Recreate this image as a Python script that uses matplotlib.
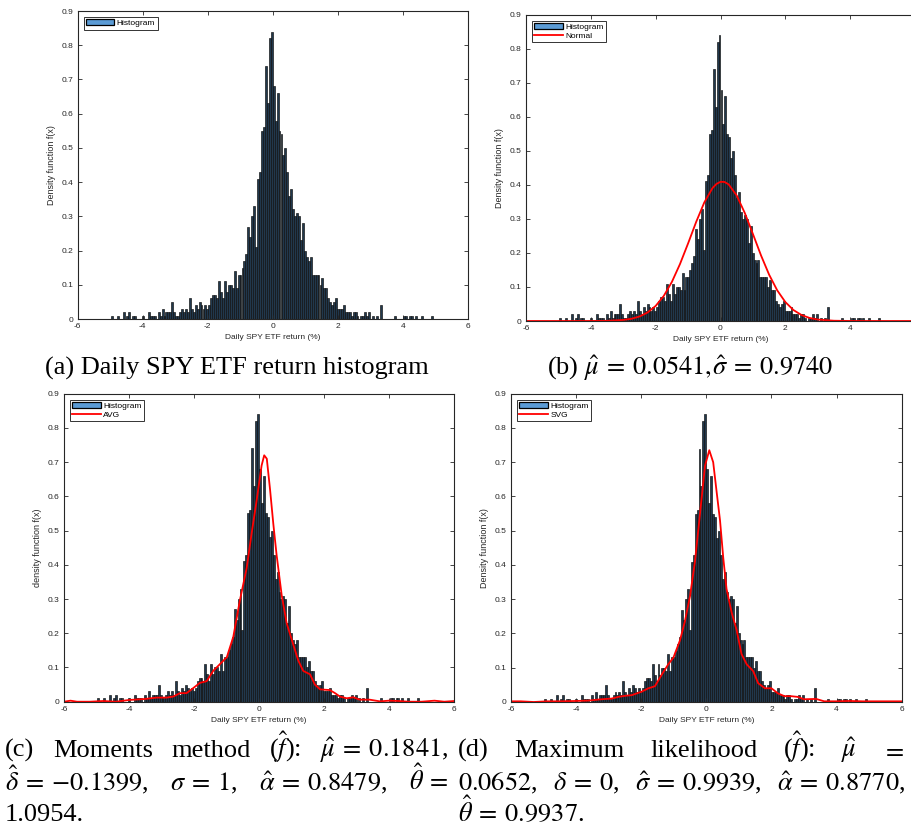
import numpy as np
import matplotlib.pyplot as plt
from matplotlib.patches import Patch
from matplotlib.lines import Line2D

plt.rcParams['font.family'] = 'Liberation Sans'
plt.rcParams['mathtext.fontset'] = 'stix'
plt.rcParams['axes.unicode_minus'] = False

# histogram of daily SPY ETF returns (density), bins of width 0.06 starting at -5.16
bin_start = -5.16
bin_w = 0.06
density = [
    0, 0, 0, 0.01, 0, 0, 0.01, 0, 0, 0.02, 0, 0.01, 0.02, 0, 0.01, 0.01, 0, 0, 0, 0.01,
    0, 0, 0.02, 0.01, 0.01, 0.01, 0, 0.02, 0.01, 0.03, 0.01, 0.02, 0.02, 0.02, 0.05, 0.02, 0.01, 0.01, 0.02, 0.03,
    0.02, 0.03, 0.02, 0.06, 0.03, 0.02, 0.04, 0.03, 0.05, 0.04, 0.03, 0.04, 0.03, 0.04, 0.06, 0.07, 0.07, 0.06,
    0.11, 0.08, 0.06, 0.11, 0.08, 0.10, 0.10, 0.09, 0.14, 0.09, 0.13, 0.13, 0.15, 0.17, 0.19, 0.27, 0.24, 0.30,
    0.33, 0.21, 0.41, 0.43, 0.55, 0.56, 0.74, 0.63, 0.82, 0.84, 0.68, 0.58, 0.66, 0.55, 0.54, 0.48, 0.50, 0.43,
    0.36, 0.38, 0.32, 0.30, 0.31, 0.30, 0.23, 0.28, 0.20, 0.18, 0.17, 0.18, 0.13, 0.13, 0.13, 0.13, 0.10, 0.12,
    0.09, 0.09, 0.06, 0.05, 0.04, 0.05, 0.06, 0.03, 0.03, 0.03, 0.04, 0.02,
    0.02, 0.02, 0.01, 0.02, 0.02, 0.01, 0, 0.01, 0.01, 0.02, 0.01, 0.02, 0, 0.01, 0, 0.01, 0, 0.04, 0, 0,
    0, 0, 0, 0, 0.01, 0, 0, 0, 0, 0.01, 0.01, 0, 0.01, 0.01, 0, 0.01, 0, 0, 0.01, 0,
    0, 0, 0, 0.01, 0, 0,
]

# fitted normal density (mu=0.0541, sigma=0.9740)
normal_x = [-6, -5, -4, -3.5, -3, -2.75, -2.5, -2.25, -2, -1.75, -1.5, -1.25, -1, -0.75, -0.5, -0.25, -0.125,
            0, 0.125, 0.25, 0.5, 0.75, 1, 1.25, 1.5, 1.75, 2, 2.25, 2.5, 2.75, 3, 3.5, 4, 5, 6]
normal_y = [0, 0, 0.0001, 0.0005, 0.003, 0.0065, 0.0132, 0.025, 0.0443, 0.0737, 0.1148, 0.1673, 0.228, 0.2913,
            0.3484, 0.3902, 0.4027, 0.409, 0.4085, 0.4014, 0.3688, 0.3173, 0.2556, 0.1927, 0.1361, 0.09, 0.0557,
            0.0322, 0.0175, 0.0089, 0.0042, 0.0008, 0.0001, 0, 0]

# AVG density, moments method
avg_x = [-6, -5.8, -5.6, -5.2, -4.8, -4.4, -4.0, -3.5, -3.15, -2.84, -2.64, -2.43, -2.23, -2.02, -1.82, -1.61,
         -1.41, -1.2, -0.99, -0.79, -0.58, -0.38, -0.23, -0.07, 0.08, 0.16, 0.24, 0.34, 0.44, 0.54, 0.70, 0.85,
         1.06, 1.21, 1.36, 1.57, 1.72, 1.88, 2.03, 2.18, 2.34, 2.49, 2.7, 2.9, 3.1, 3.4, 3.72, 4.0,
         4.3, 4.6, 5.0, 5.4, 5.7, 6]
avg_y = [0, 0.003, 0, 0, 0.002, 0, 0.005, 0.008, 0.012, 0.012, 0.015, 0.025, 0.025, 0.04, 0.055, 0.06,
         0.09, 0.11, 0.13, 0.19, 0.30, 0.39, 0.49, 0.59, 0.69, 0.72, 0.71, 0.62, 0.52, 0.43, 0.31, 0.23,
         0.165, 0.12, 0.09, 0.08, 0.05, 0.036, 0.035, 0.034, 0.025, 0.015, 0.01, 0.013, 0.006, 0.006, 0.001, 0.003,
         0.002, 0, 0, 0.003, 0, 0.002]

# SVG density, maximum likelihood
svg_x = [-6, -5.7, -5.3, -4.9, -4.5, -4.0, -3.63, -3.22, -2.91, -2.7, -2.5, -2.29, -1.99, -1.78, -1.58, -1.37,
         -1.17, -1.01, -0.81, -0.66, -0.5, -0.35, -0.25, -0.14, -0.04, 0.09, 0.21, 0.32, 0.42, 0.52, 0.62, 0.78,
         0.93, 1.08, 1.24, 1.44, 1.59, 1.8, 2.0, 2.2, 2.4, 2.6, 2.8, 3.0, 3.37, 3.62, 4.0, 4.4,
         4.8, 5.2, 5.6, 6]
svg_y = [0.002, 0.002, 0, 0.002, 0.002, 0.003, 0.004, 0.008, 0.01, 0.015, 0.018, 0.02, 0.03, 0.04, 0.046, 0.08,
         0.11, 0.13, 0.18, 0.235, 0.31, 0.41, 0.50, 0.60, 0.69, 0.735, 0.70, 0.61, 0.53, 0.42, 0.33, 0.26,
         0.21, 0.14, 0.11, 0.09, 0.055, 0.04, 0.04, 0.025, 0.017, 0.017, 0.015, 0.008, 0.009, 0.002, 0.002, 0.003,
         0.002, 0.002, 0.002, 0.002]

legend_face = '#5b9bd5'
bar_face = '#21384d'
dark = '#262626'

W, H = 911, 825
fig = plt.figure(figsize=(W / 100, H / 100), dpi=100)


def px_axes(left, top, right, bottom):
    return fig.add_axes([left / W, 1 - bottom / H, (right - left) / W, (bottom - top) / H])


def draw_panel(ax, ylabel, curve=None, curve_label=None, hide_last_xtick=False):
    edges = bin_start + bin_w * np.arange(len(density) + 1)
    centers = (edges[:-1] + edges[1:]) / 2
    ax.bar(centers, density, width=bin_w, facecolor=bar_face, edgecolor='#0d0d0d', linewidth=0.45)
    handles = [Patch(facecolor=legend_face, edgecolor='black', linewidth=0.9)]
    labels = ['Histogram']
    if curve is not None:
        ax.plot(curve[0], curve[1], color='red', linewidth=1.3)
        handles.append(Line2D([], [], color='red', linewidth=1.3))
        labels.append(curve_label)
    ax.set_xlim(-6, 6)
    ax.set_ylim(0, 0.9)
    ticks = list(range(-6, 7, 2))
    ax.set_xticks(ticks)
    ax.set_xticklabels([str(t) for t in ticks[:-1]] + ['' if hide_last_xtick else '6'])
    ax.set_yticks(np.arange(0, 0.91, 0.1))
    ax.yaxis.set_major_formatter(plt.FuncFormatter(lambda v, _: f'{v:g}'))
    ax.tick_params(direction='in', top=True, right=True, labelsize=6, length=3, width=0.6,
                   colors=dark, pad=3)
    for s in ax.spines.values():
        s.set_linewidth(0.8)
        s.set_color(dark)
    ax.set_xlabel('Daily SPY ETF return (%)', fontsize=6, color=dark, labelpad=3)
    ax.set_ylabel(ylabel, fontsize=6.5, color=dark, labelpad=4)
    leg = ax.legend(handles, labels, loc='upper left', fontsize=6, frameon=True, fancybox=False,
                    edgecolor='black', borderpad=0.3, handlelength=3.4, handletextpad=0.3,
                    labelspacing=0.15, borderaxespad=0.7)
    leg.get_frame().set_linewidth(0.7)


ax_a = px_axes(77.7, 11, 467.7, 319)
draw_panel(ax_a, 'Density function f(x)')
ax_b = px_axes(526, 14.7, 915, 321)
draw_panel(ax_b, 'Density function f(x)', (normal_x, normal_y), 'Normal', hide_last_xtick=True)
ax_c = px_axes(64, 393.7, 454, 701.7)
draw_panel(ax_c, 'density function f(x)', (avg_x, avg_y), 'AVG')
ax_d = px_axes(511, 393.7, 901.7, 702)
draw_panel(ax_d, 'Density function f(x)', (svg_x, svg_y), 'SVG')

cap = dict(family='Liberation Serif', fontsize=19, color='black')
fig.text(237 / W, 1 - 375 / H, '(a) Daily SPY ETF return histogram', ha='center', va='baseline', **cap)
fig.text(690 / W, 1 - 375 / H, r'(b) $\hat{\mu}\:=\:0.0541,\!\hat{\sigma}\:=\:0.9740$',
         ha='center', va='baseline', **cap)

renderer = fig.canvas.get_renderer()


def justify(words, x0, x1, base):
    texts = [fig.text(0, 1 - base / H, w, ha='left', va='baseline', **cap) for w in words]
    widths = [t.get_window_extent(renderer).width for t in texts]
    gap = (x1 - x0 - sum(widths)) / max(len(words) - 1, 1)
    x = x0
    for t, w in zip(texts, widths):
        t.set_x(x / W)
        x += w + gap


justify(['(c)', 'Moments', 'method', r'($\hat{f}$):', r'$\hat{\mu}\:=\:0.1841$,'], 5, 448, 757)
justify([r'$\hat{\delta}\:=\:{-}0.1399$,', r'$\sigma\:=\:1$,', r'$\hat{\alpha}\:=\:0.8479$,',
         r'$\hat{\theta}\:=$'], 5, 448, 790)
fig.text(5 / W, 1 - 821 / H, '1.0954.', ha='left', va='baseline', **cap)
justify(['(d)', 'Maximum', 'likelihood', r'($\hat{f}$):', r'$\hat{\mu}$', r'$=$'], 458, 905, 757)
justify([r'$0.0652$,', r'$\delta\:=\:0$,', r'$\hat{\sigma}\:=\:0.9939$,', r'$\hat{\alpha}\:=\:0.8770$,'],
        458, 905, 790)
fig.text(458 / W, 1 - 821 / H, r'$\hat{\theta}\:=\:0.9937$.', ha='left', va='baseline', **cap)

fig.savefig('out.png', dpi=100)
